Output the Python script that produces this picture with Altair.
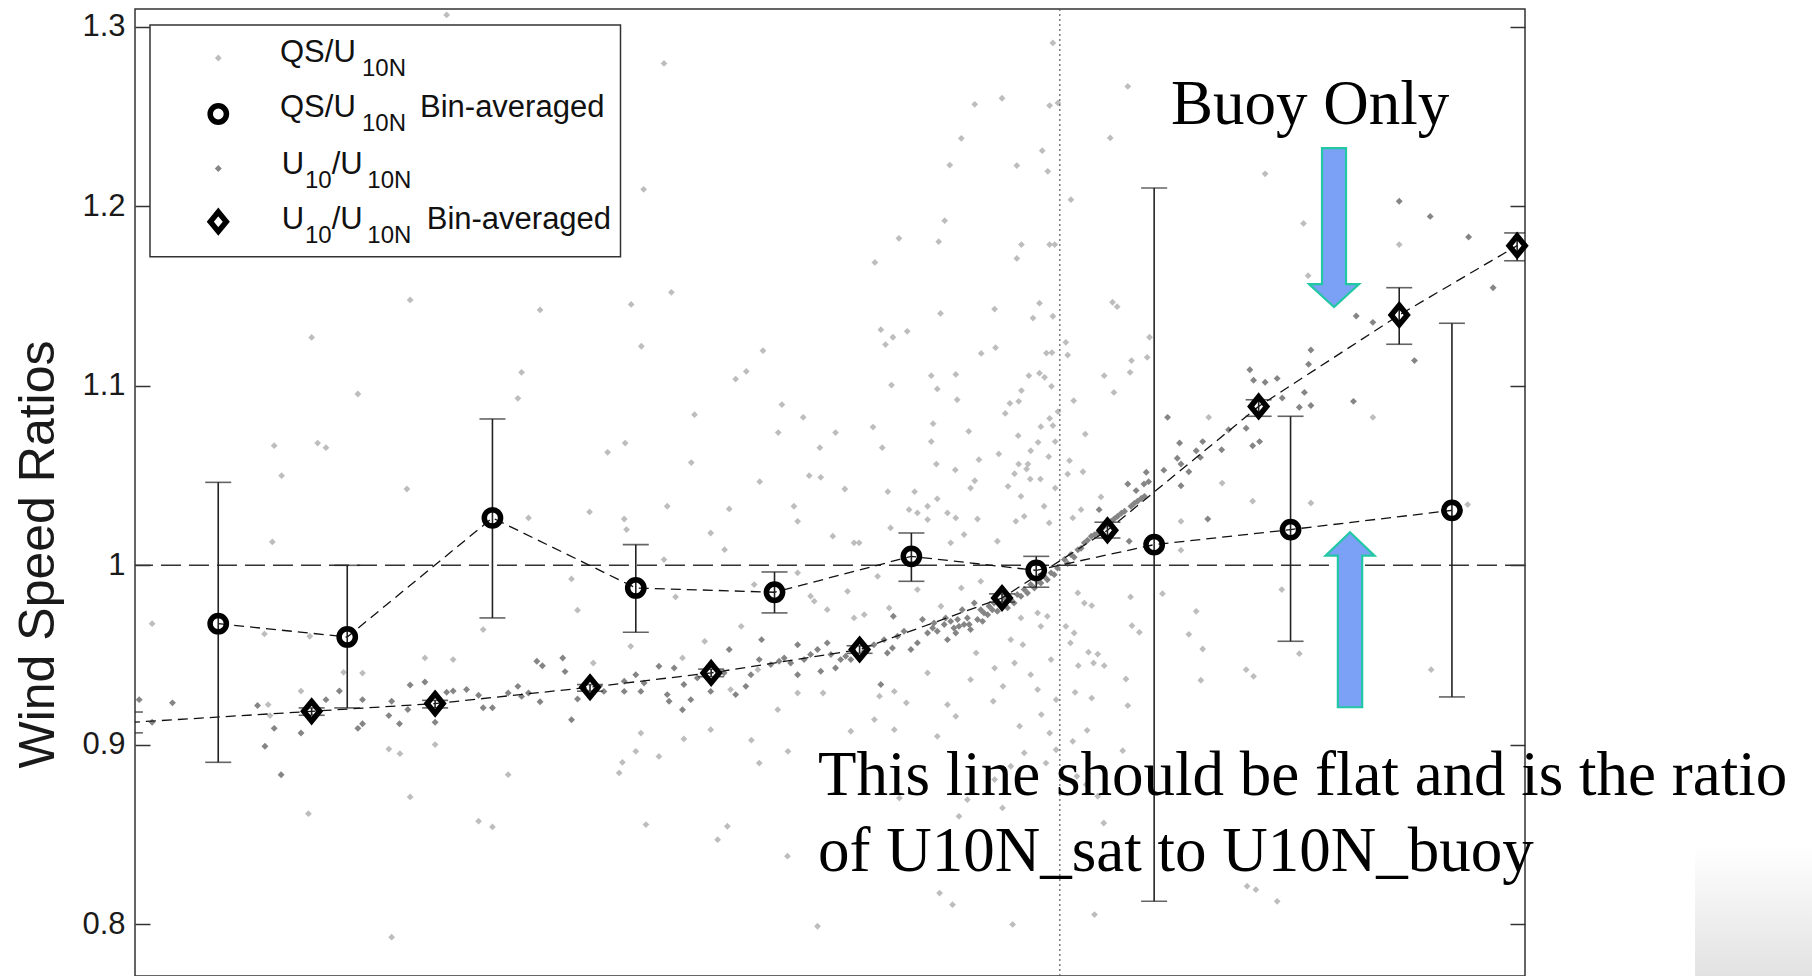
import altair as alt
import pandas as pd

# ---------------- data ----------------
# bin-averaged QS/U10N (circles) with error bar limits
qs_bin_x = [-1.820, -1.541, -1.227, -0.917, -0.617, -0.321, -0.051, 0.204, 0.499, 0.848]
qs_bin_y = [0.9675, 0.9601, 1.0264, 0.9874, 0.9850, 1.0050, 0.9972, 1.0115, 1.0199, 1.0306]
qs_bin_lo = [0.8903, 0.9206, 0.9707, 0.9627, 0.9735, 0.9911, 0.9878, 0.8129, 0.9577, 0.9267]
qs_bin_hi = [1.0462, 1.0000, 1.0815, 1.0115, 0.9963, 1.0180, 1.0050, 1.2101, 1.0830, 1.1348]

# bin-averaged U10/U10N (diamonds) with error bar limits (first bin lies just left of the frame)
u10_bin_x = [-2.011, -1.618, -1.351, -1.016, -0.754, -0.433, -0.125, 0.103, 0.430, 0.734, 0.989]
u10_bin_y = [0.9125, 0.9187, 0.9230, 0.9321, 0.9401, 0.9531, 0.9818, 1.0195, 1.0885, 1.1394, 1.1780]
u10_bin_lo = [0.9067, 0.9165, 0.9206, 0.9299, 0.9380, 0.9510, 0.9795, 1.0152, 1.0830, 1.1231, 1.1696]
u10_bin_hi = [0.9183, 0.9206, 0.9248, 0.9336, 0.9422, 0.9552, 0.9841, 1.0240, 1.0922, 1.1546, 1.1851]

# individual QS/U10N ratios (light grey)
qs_points = [
    (-1.326, 1.3065), (-1.405, 1.1478), (-1.618, 1.1269), (-1.124, 1.1422), (-1.518, 1.0954), (-1.164, 1.1075),
    (-1.172, 1.0930), (-1.699, 1.0666), (-1.605, 1.0681), (-1.587, 1.0655), (-1.683, 1.0499), (-1.412, 1.0425),
    (-0.856, 1.2795), (-0.900, 1.2094), (-0.015, 1.2909), (-0.125, 1.2601), (-0.184, 1.2567), (-0.022, 1.2560),
    (-0.004, 1.2575), (-0.213, 1.2378), (-0.238, 1.2229), (-0.093, 1.2226), (-0.038, 1.2309), (-0.026, 1.2194),
    (-0.249, 1.1919), (-0.348, 1.1821), (-0.262, 1.1802), (-0.400, 1.1687), (-0.083, 1.1786), (-0.093, 1.1709),
    (-0.022, 1.1786), (-0.011, 1.1786), (-0.840, 1.1520), (-0.927, 1.1453), (-0.905, 1.1220), (-0.258, 1.1403),
    (-0.141, 1.1427), (-0.044, 1.1460), (-0.058, 1.1377), (-0.015, 1.1387), (-0.387, 1.1312), (-0.361, 1.1270),
    (-0.377, 1.1229), (-0.330, 1.1303), (-0.642, 1.1195), (-0.678, 1.1080), (-0.701, 1.1037), (-0.170, 1.1180),
    (-0.139, 1.1212), (-0.029, 1.1182), (-0.017, 1.1185), (-0.278, 1.1056), (-0.225, 1.1063), (-0.265, 1.0982),
    (-0.364, 1.1004), (-0.222, 1.0922), (-0.067, 1.1056), (-0.044, 1.1070), (-0.033, 1.1047), (-0.018, 1.0997),
    (-0.083, 1.0973), (-0.108, 1.0902), (-0.089, 1.0913), (-0.118, 1.0846), (-0.004, 1.0856), (-0.022, 1.0818),
    (-0.015, 1.0778), (-0.041, 1.0772), (-0.790, 1.0839), (-0.601, 1.0895), (-0.555, 1.0824), (-0.609, 1.0739),
    (-0.485, 1.0739), (-0.404, 1.0770), (-0.274, 1.0789), (-0.278, 1.0689), (-0.197, 1.0746), (-0.519, 1.0655),
    (-0.384, 1.0655), (-0.940, 1.0681), (-0.978, 1.0629), (-0.797, 1.0572), (-0.090, 1.0722), (-0.063, 1.0638),
    (-0.047, 1.0685), (-0.010, 1.0689), (-0.024, 1.0605), (-0.132, 1.0620), (-0.175, 1.0588), (-0.267, 1.0564),
    (-0.226, 1.0531), (-0.089, 1.0564), (-0.069, 1.0564), (-0.072, 1.0536), (-0.098, 1.0510), (-0.064, 1.0480),
    (-0.042, 1.0480), (-0.649, 1.0466), (-0.542, 1.0499), (-0.517, 1.0490), (-0.465, 1.0425), (-0.372, 1.0410),
    (-0.314, 1.0410), (-0.184, 1.0471), (-0.193, 1.0430), (-0.112, 1.0440), (-0.010, 1.0430),
    (0.147, 1.2667), (0.109, 1.2380), (0.444, 1.2180), (0.024, 1.2036), (0.527, 1.1904), (0.734, 1.1786),
    (0.537, 1.1613), (0.114, 1.1465), (0.124, 1.1440), (0.013, 1.1242), (0.017, 1.1171), (0.194, 1.1270),
    (0.155, 1.1140), (0.189, 1.1158), (0.096, 1.1056), (0.152, 1.1075), (0.117, 1.0963), (0.030, 1.0917),
    (0.322, 1.0824), (0.677, 1.0824), (0.055, 1.0731), (0.021, 1.0583), (0.050, 1.0521), (0.017, 1.0508),
    (0.351, 1.0458),
    (-1.703, 1.0130), (-1.963, 0.9675), (-1.720, 0.9618), (-1.622, 0.9605), (-1.149, 1.0264), (-1.017, 1.0297),
    (-1.056, 0.9924), (-1.043, 0.9750), (-1.247, 0.9642), (-1.373, 0.9484), (-1.312, 0.9475), (-1.549, 0.9404),
    (-1.508, 0.9400), (-1.641, 0.9300), (-1.712, 0.9224), (-1.708, 0.9163), (-1.451, 0.8977), (-1.427, 0.8951),
    (-1.351, 0.9002), (-1.193, 0.8834), (-1.405, 0.8710), (-1.625, 0.8617), (-1.257, 0.8575), (-1.227, 0.8543),
    (-1.445, 0.7929), (-1.009, 0.9456),
    (-0.849, 1.0329), (-0.715, 1.0314), (-0.575, 1.0329), (-0.567, 1.0245), (-0.942, 1.0258), (-0.937, 1.0199),
    (-0.755, 1.0180), (-0.725, 1.0087), (-0.491, 1.0162), (-0.445, 1.0125), (-0.434, 1.0125), (-0.366, 1.0208),
    (-0.326, 1.0310), (-0.308, 1.0292), (-0.286, 1.0329), (-0.265, 1.0370), (-0.286, 1.0255), (-0.243, 1.0292),
    (-0.225, 1.0264), (-0.207, 1.0171), (-0.236, 1.0125), (-0.178, 1.0258), (-0.135, 1.0134), (-0.095, 1.0245),
    (-0.077, 1.0273), (-0.034, 1.0329), (-0.023, 1.0236), (-0.084, 1.0384),
    (-0.856, 1.0032), (-0.831, 0.9824), (-0.661, 0.9893), (-0.539, 0.9828), (-0.531, 0.9800), (-0.567, 0.9958),
    (-0.503, 0.9753), (-0.459, 0.9855), (-0.445, 0.9707), (-0.423, 0.9725), (-0.394, 0.9939), (-0.369, 0.9763),
    (-0.308, 0.9865), (-0.257, 0.9772), (-0.213, 0.9874), (-0.171, 0.9911), (-0.084, 0.9707), (-0.048, 0.9735),
    (-0.027, 0.9716),
    (-0.768, 0.9577), (-0.689, 0.9660), (-0.928, 0.9549), (-0.816, 0.9484), (-0.712, 0.9308), (-0.653, 0.9419),
    (-0.610, 0.9196), (-0.567, 0.9289),
    (-0.906, 0.9066), (-0.917, 0.8964), (-0.867, 0.8936), (-0.946, 0.8903), (-0.953, 0.8844), (-0.813, 0.9033),
    (-0.755, 0.9085), (-0.667, 0.9026), (-0.650, 0.8899), (-0.588, 0.8964), (-0.512, 0.9289), (-0.452, 0.9076),
    (-0.401, 0.9141), (-0.390, 0.9271), (-0.358, 0.9298), (-0.332, 0.9234), (-0.358, 0.9085), (-0.286, 0.9401),
    (-0.265, 0.9048), (-0.243, 0.9224), (-0.225, 0.9159), (-0.193, 0.9363), (-0.181, 0.9512), (-0.141, 0.9428),
    (-0.144, 0.9243), (-0.123, 0.9326), (-0.098, 0.9456), (-0.087, 0.9104), (-0.080, 0.9558), (-0.063, 0.9391),
    (-0.048, 0.9308), (-0.040, 0.9169), (-0.022, 0.9066), (-0.019, 0.9475), (-0.008, 0.9252), (-0.041, 0.9660),
    (-0.106, 0.9586),
    (-0.895, 0.8556), (-0.719, 0.8547), (-0.740, 0.8472), (-0.589, 0.8380), (-0.524, 0.7990), (-0.232, 0.8110),
    (-0.102, 0.8000), (-0.200, 0.8695), (-0.124, 0.8649), (-0.218, 0.8602), (-0.347, 0.8704), (-0.141, 0.8807),
    (-0.077, 0.8955), (-0.030, 0.8899), (-0.008, 0.8973), (-0.106, 0.8881), (-0.260, 0.8175),
    (0.046, 1.0310), (0.028, 1.0264), (0.089, 1.0381), (0.262, 1.0245), (0.262, 1.0084), (0.417, 1.0357),
    (0.543, 1.0347), (0.882, 1.0338), (0.039, 0.9846), (0.053, 0.9790), (0.069, 0.9776), (0.153, 0.9824),
    (0.222, 0.9842), (0.295, 0.9744), (0.013, 0.9660), (0.031, 0.9623), (0.023, 0.9568), (0.156, 0.9664),
    (0.172, 0.9627), (0.279, 0.9616), (0.309, 0.9534), (0.062, 0.9516), (0.082, 0.9506), (0.040, 0.9441),
    (0.073, 0.9456), (0.096, 0.9441), (0.143, 0.9367), (0.305, 0.9360), (0.403, 0.9419), (0.419, 0.9382),
    (0.518, 0.9508), (0.480, 0.9865), (0.033, 0.9293), (0.069, 0.9261), (0.147, 0.9219), (0.803, 0.9419),
    (0.059, 0.9081), (0.028, 0.9020), (0.136, 0.8968), (0.037, 0.8825), (0.057, 0.8779), (0.082, 0.8714),
    (0.095, 0.8565), (0.405, 0.8213), (0.424, 0.8194), (0.470, 0.8129), (0.075, 0.8055),
]

# individual U10/U10N ratios (dark grey)
u10_points = [
    (0.734, 1.2027), (0.801, 1.1943), (0.884, 1.1828), (0.937, 1.1546), (0.641, 1.1388), (0.677, 1.1353),
    (0.767, 1.1140), (0.543, 1.1199), (0.538, 1.1120), (0.411, 1.1089), (0.419, 1.1031), (0.444, 1.1019),
    (0.470, 1.1041), (0.529, 1.0963), (0.481, 1.0932), (0.518, 1.0880), (0.543, 1.0890), (0.635, 1.0913),
    (0.233, 1.0824), (0.403, 1.0763), (0.365, 1.0755), (0.417, 1.0666), (0.432, 1.0689), (0.259, 1.0681),
    (0.309, 1.0689), (0.295, 1.0638), (0.350, 1.0644), (0.254, 1.0596), (0.262, 1.0564), (0.304, 1.0601),
    (0.279, 1.0521), (0.225, 1.0530), (0.262, 1.0443), (0.187, 1.0518), (0.192, 1.0466), (0.182, 1.0453),
    (0.147, 1.0453), (0.165, 1.0416),
    (-1.991, 0.9252), (-1.919, 0.9234), (-1.963, 0.9126), (-1.735, 0.9219), (-1.587, 0.9252), (-1.558, 0.9300),
    (-1.508, 0.9252), (-1.699, 0.9092), (-1.641, 0.9066), (-1.719, 0.8992), (-1.684, 0.8834), (-1.518, 0.9092),
    (-1.508, 0.9118), (-1.445, 0.9243), (-1.405, 0.9334), (-1.373, 0.9350), (-1.410, 0.9197), (-1.451, 0.9163),
    (-1.428, 0.9118), (-1.351, 0.9126), (-1.326, 0.9293), (-1.312, 0.9300), (-1.283, 0.9308), (-1.257, 0.9276),
    (-1.247, 0.9207), (-1.227, 0.9207), (-1.193, 0.9289), (-1.172, 0.9326), (-1.164, 0.9270), (-1.149, 0.9289),
    (-1.131, 0.9466), (-1.119, 0.9441), (-1.124, 0.9240), (-1.075, 0.9484), (-1.070, 0.9408), (-1.056, 0.9140),
    (-1.043, 0.9256),
    (-0.986, 0.9298), (-0.942, 0.9354), (-0.942, 0.9298), (-0.917, 0.9391), (-0.906, 0.9298), (-0.899, 0.9345),
    (-0.867, 0.9438), (-0.849, 0.9280), (-0.834, 0.9428), (-0.845, 0.9243), (-0.816, 0.9196), (-0.813, 0.9336),
    (-0.798, 0.9252), (-0.784, 0.9373), (-0.755, 0.9298), (-0.726, 0.9401), (-0.715, 0.9531), (-0.701, 0.9280),
    (-0.679, 0.9326), (-0.668, 0.9391), (-0.650, 0.9475), (-0.645, 0.9586), (-0.625, 0.9447), (-0.607, 0.9466),
    (-0.596, 0.9484), (-0.582, 0.9456), (-0.567, 0.9558), (-0.567, 0.9391), (-0.553, 0.9475), (-0.539, 0.9503),
    (-0.524, 0.9531), (-0.517, 0.9410), (-0.503, 0.9568), (-0.495, 0.9503), (-0.485, 0.9428), (-0.474, 0.9475),
    (-0.463, 0.9494), (-0.452, 0.9475), (-0.423, 0.9521), (-0.402, 0.9558), (-0.387, 0.9336), (-0.380, 0.9586),
    (-0.373, 0.9512), (-0.362, 0.9540), (-0.360, 0.9716), (-0.351, 0.9605), (-0.337, 0.9633), (-0.322, 0.9531),
    (-0.308, 0.9568), (-0.297, 0.9698), (-0.286, 0.9623), (-0.275, 0.9651), (-0.265, 0.9633), (-0.250, 0.9670),
    (-0.243, 0.9586), (-0.236, 0.9688), (-0.225, 0.9623), (-0.218, 0.9660), (-0.211, 0.9753), (-0.207, 0.9670),
    (-0.200, 0.9707), (-0.193, 0.9642), (-0.185, 0.9790), (-0.178, 0.9698), (-0.167, 0.9688), (-0.156, 0.9725),
    (-0.153, 0.9772), (-0.142, 0.9790), (-0.135, 0.9744), (-0.120, 0.9818), (-0.106, 0.9809), (-0.092, 0.9837),
    (-0.077, 0.9865), (-0.063, 0.9893), (-0.048, 0.9911), (-0.034, 0.9939), (-0.019, 0.9958), (-0.005, 0.9985),
    (-0.113, 0.9763), (-0.171, 0.9753), (-0.229, 0.9651), (-0.272, 0.9679), (-0.247, 0.9707), (-0.221, 0.9698),
    (-0.196, 0.9670), (-0.164, 0.9735), (-0.146, 0.9753), (-0.128, 0.9781), (-0.099, 0.9790), (-0.084, 0.9828),
    (-0.070, 0.9846), (-0.055, 0.9874), (-0.041, 0.9902), (-0.027, 0.9920), (-0.012, 0.9948),
    (0.085, 1.0310), (0.010, 1.0032), (0.024, 1.0060), (0.039, 1.0087), (0.053, 1.0125), (0.068, 1.0162),
    (0.082, 1.0180), (0.096, 1.0218), (0.111, 1.0245), (0.125, 1.0273), (0.140, 1.0301), (0.154, 1.0329),
    (0.168, 1.0357), (0.183, 1.0384), (0.320, 1.0258), (0.150, 1.0134), (0.017, 1.0010), (0.031, 1.0045),
    (0.046, 1.0095), (0.060, 1.0140), (0.075, 1.0170), (0.089, 1.0200), (0.104, 1.0230), (0.118, 1.0260),
    (0.133, 1.0290), (0.161, 1.0345), (0.176, 1.0372),
]

y_ticks = [0.8, 0.9, 1.0, 1.1, 1.2, 1.3]
x_ticks = [-2, -1, 0, 1]
x_domain = [-2.0, 1.006]
y_domain = [0.7713, 1.3098]

# annotation arrows: anchor (centre) in data units
arrow_x = [0.593, 0.6276]
arrow_y = [1.1881, 0.9697]
arrow_kind = ["down", "up"]

note_lines = ["This line should be flat and is the ratio", "of U10N_sat to U10N_buoy"]

# ---------------- chart ----------------
XS = alt.Scale(domain=x_domain, nice=False, zero=False)
YS = alt.Scale(domain=y_domain, nice=False, zero=False)


def X(f):
    return alt.X(f, type="quantitative", scale=XS, axis=None)


def Y(f):
    return alt.Y(f, type="quantitative", scale=YS, axis=None)


qs_df = pd.DataFrame(qs_points, columns=["x", "y"])
u10_df = pd.DataFrame(u10_points, columns=["x", "y"])
qsb = pd.DataFrame({"x": qs_bin_x, "y": qs_bin_y, "lo": qs_bin_lo, "hi": qs_bin_hi})
u10b = pd.DataFrame({"x": u10_bin_x, "y": u10_bin_y, "lo": u10_bin_lo, "hi": u10_bin_hi})
one = pd.DataFrame({"a": [0]})

LIGHT = "#bdbdbd"
DARK = "#858585"

layers = []

# grey gradient patch at bottom right (slide decoration)
patch = pd.DataFrame({"x": [1.3737], "x2": [1.627], "y": [0.8442], "y2": [0.7713]})
layers.append(alt.Chart(patch).mark_rect(
    color=alt.Gradient(gradient="linear",
                       stops=[alt.GradientStop(color="#ffffff", offset=0),
                              alt.GradientStop(color="#e2e2e2", offset=1)],
                       x1=0, x2=0, y1=0, y2=1)
).encode(x=X("x"), x2="x2", y=Y("y"), y2="y2"))

LIGHT_PT = dict(shape="diamond", filled=True, size=46, color=LIGHT, opacity=1)
DARK_PT = dict(shape="diamond", filled=True, size=48, color=DARK, opacity=1)
layers.append(alt.Chart(qs_df).mark_point(**LIGHT_PT).encode(x=X("x"), y=Y("y")))
layers.append(alt.Chart(u10_df).mark_point(**DARK_PT).encode(x=X("x"), y=Y("y")))

# reference lines
layers.append(alt.Chart(pd.DataFrame({"v": [0.0]})).mark_rule(color="#5a5a5a", strokeWidth=1.2, strokeDash=[2, 3])
              .encode(x=X("v")))
layers.append(alt.Chart(pd.DataFrame({"v": [1.0]})).mark_rule(color="#333333", strokeWidth=1.6, strokeDash=[20, 8])
              .encode(y=Y("v")))

# connecting dashed lines
layers.append(alt.Chart(qsb).mark_line(color="#111111", strokeWidth=1.3, strokeDash=[10, 6])
              .encode(x=X("x"), y=Y("y")))
layers.append(alt.Chart(u10b).mark_line(color="#111111", strokeWidth=1.3, strokeDash=[10, 6], clip=True)
              .encode(x=X("x"), y=Y("y")))

# error bars
for df in (qsb, u10b):
    layers.append(alt.Chart(df).mark_rule(color="#222222", strokeWidth=1.6, clip=True)
                  .encode(x=X("x"), y=Y("lo"), y2="hi"))
    layers.append(alt.Chart(df).transform_fold(["lo", "hi"], as_=["k", "v"])
                  .mark_tick(orient="horizontal", size=26, thickness=1.6, color="#222222", clip=True)
                  .encode(x=X("x"), y=Y("v:Q")))

# bin-averaged markers (MATLAB diamond is a little taller than wide)
DIAMOND_PATH = "M0,-1L0.82,0L0,1L-0.82,0Z"
CIRC = dict(shape="circle", filled=False, size=265, strokeWidth=5.5, color="black", opacity=1)
DIAM = dict(shape=DIAMOND_PATH, filled=False, size=380, strokeWidth=5.5, color="black", opacity=1)
layers.append(alt.Chart(qsb).mark_point(**CIRC).encode(x=X("x"), y=Y("y")))
layers.append(alt.Chart(u10b).transform_filter("datum.x >= -2").mark_point(**DIAM).encode(x=X("x"), y=Y("y")))

# ---- legend box (drawn as an inset, pixel layout) ----
layers.append(alt.Chart(one).mark_rect(fill="white", stroke="#333333", strokeWidth=1.5)
              .encode(x=alt.value(15), x2=alt.value(485.5), y=alt.value(16), y2=alt.value(247.7)))

PX = lambda f: alt.X(f, type="quantitative", scale=None, axis=None)
PY = lambda f: alt.Y(f, type="quantitative", scale=None, axis=None)

leg_sym = pd.DataFrame({"px": [83.3, 83.3, 83.3, 83.3], "py": [49, 105, 159.5, 212.7],
                        "k": ["qs", "qsb", "u", "ub"]})
layers.append(alt.Chart(leg_sym).transform_filter("datum.k == 'qs'").mark_point(**LIGHT_PT)
              .encode(x=PX("px"), y=PY("py")))
layers.append(alt.Chart(leg_sym).transform_filter("datum.k == 'u'").mark_point(**DARK_PT)
              .encode(x=PX("px"), y=PY("py")))
layers.append(alt.Chart(leg_sym).transform_filter("datum.k == 'qsb'").mark_point(**CIRC)
              .encode(x=PX("px"), y=PY("py")))
layers.append(alt.Chart(leg_sym).transform_filter("datum.k == 'ub'").mark_point(**DIAM)
              .encode(x=PX("px"), y=PY("py")))

leg_txt = pd.DataFrame([
    ("QS/U", 145, 52.7, 31), ("10N", 227, 66.7, 24),
    ("QS/U", 145, 108.3, 31), ("10N", 227, 122, 24), ("Bin-averaged", 285, 107.5, 31),
    ("U", 146.7, 165, 31), ("10", 170, 179.3, 24), ("/U", 196.7, 165, 31), ("10N", 232.3, 179.3, 24),
    ("U", 146.7, 220, 31), ("10", 170, 234.3, 24), ("/U", 196.7, 220, 31), ("10N", 232.3, 234.3, 24),
    ("Bin-averaged", 291.7, 220, 31),
], columns=["t", "px", "py", "fs"])
layers.append(alt.Chart(leg_txt).mark_text(align="left", baseline="alphabetic", font="Liberation Sans", color="#111111")
              .encode(x=PX("px"), y=PY("py"), text="t:N", size=alt.Size("fs:Q", scale=None)))

# ---- annotations ----
layers.append(alt.Chart(pd.DataFrame({"x": [0.2405], "y": [1.2458], "t": ["Buoy Only"]}))
              .mark_text(align="left", baseline="alphabetic", font="Liberation Serif", fontSize=63, color="black")
              .encode(x=X("x"), y=Y("y"), text="t:N"))
layers.append(alt.Chart(pd.DataFrame({"x": [-0.523, -0.523], "y": [0.8721, 0.8296], "t": note_lines}))
              .mark_text(align="left", baseline="alphabetic", font="Liberation Serif", fontSize=63, color="black")
              .encode(x=X("x"), y=Y("y"), text="t:N"))

arrows = pd.DataFrame({"x": arrow_x, "y": arrow_y, "k": arrow_kind})
DOWN_PATH = "M-0.151,-1L0.151,-1L0.151,0.711L0.3145,0.711L0,1L-0.3145,0.711L-0.151,0.711Z"
UP_PATH = "M0,-1L0.28,-0.733L0.139,-0.733L0.139,1L-0.139,1L-0.139,-0.733L-0.28,-0.733Z"
layers.append(alt.Chart(arrows).transform_filter("datum.k == 'down'")
              .mark_point(shape=DOWN_PATH, size=25281, filled=True, fill="#7ba1f6", stroke="#22c7a3",
                          strokeWidth=2.2, opacity=1)
              .encode(x=X("x"), y=Y("y")))
layers.append(alt.Chart(arrows).transform_filter("datum.k == 'up'")
              .mark_point(shape=UP_PATH, size=30625, filled=True, fill="#7ba1f6", stroke="#22c7a3",
                          strokeWidth=2.2, opacity=1)
              .encode(x=X("x"), y=Y("y")))

# ---- axes (ticks pointing inward) ----
ytick_df = pd.DataFrame({"v": y_ticks})
xtick_df = pd.DataFrame({"v": x_ticks})
left_axis = alt.Axis(orient="left", values=y_ticks, format=".1~f", offset=-15, tickSize=15, tickWidth=1.5,
                     tickColor="#333333", domain=False, grid=False, labelFont="Liberation Sans",
                     labelFontSize=31, labelColor="#1a1a1a", labelPadding=10,
                     title="Wind Speed Ratios", titleFont="Liberation Sans", titleFontSize=50,
                     titleFontWeight="normal", titleColor="#1a1a1a", titleX=-97, titleY=545,
                     titleAngle=270, titleAlign="center", titleBaseline="alphabetic")
right_axis = alt.Axis(orient="right", values=y_ticks, offset=-15, tickSize=15, tickWidth=1.5,
                      tickColor="#333333", domain=False, grid=False, labels=False)
top_axis = alt.Axis(orient="top", values=x_ticks, offset=-15, tickSize=15, tickWidth=1.5,
                    tickColor="#333333", domain=False, grid=False, labels=False)

layers.append(alt.Chart(ytick_df).mark_point(opacity=0)
              .encode(y=alt.Y("v:Q", scale=YS, axis=left_axis)))
layers.append(alt.Chart(ytick_df).mark_point(opacity=0)
              .encode(y=alt.Y("v:Q", scale=YS, axis=right_axis, title=None)))
layers.append(alt.Chart(xtick_df).mark_point(opacity=0)
              .encode(x=alt.X("v:Q", scale=XS, axis=top_axis, title=None)))

chart = (
    alt.layer(*layers)
    .resolve_axis(y="independent")
    .properties(width=1390, height=967,
                padding={"left": 135, "top": 9, "right": 287, "bottom": 0},
                autosize=alt.AutoSizeParams(type="none"),
                background="white")
    .configure_view(stroke="#333333", strokeWidth=1.5)
)

chart.save("out.html", embed_options={"renderer": "svg", "actions": False})
